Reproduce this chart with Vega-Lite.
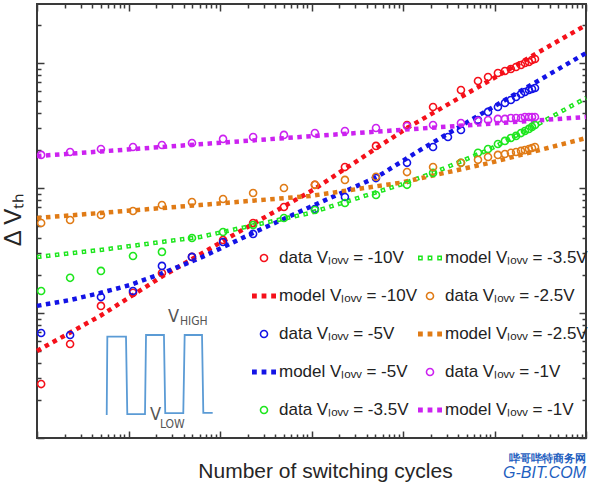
{
  "$schema": "https://vega.github.io/schema/vega-lite/v6.json",
  "width": 549,
  "height": 434,
  "autosize": {"type": "none"},
  "padding": {"left": 37, "top": 4, "right": 14, "bottom": 55},
  "background": "white",
  "config": {
    "view": {"stroke": "#3a3a3a", "strokeWidth": 2},
    "font": "Liberation Sans",
    "axis": {"domain": false, "grid": false, "labels": false, "tickColor": "#3a3a3a", "tickWidth": 1.5, "title": null}
  },
  "title": {
    "text": "哔哥哔特商务网",
    "subtitle": "G-BIT.COM",
    "orient": "bottom",
    "anchor": "end",
    "frame": "group",
    "dy": -32,
    "color": "#1f5fbf",
    "fontSize": 11,
    "fontWeight": "bold",
    "subtitleColor": "#1f5fbf",
    "subtitleFontSize": 16,
    "subtitleFontStyle": "italic",
    "subtitlePadding": 1
  },
  "datasets": {
    "points": [
      {"series": "data Vₗₒᵥᵥ = -10V", "x": 1.11, "y": 2.70},
      {"series": "data Vₗₒᵥᵥ = -10V", "x": 2.3, "y": 5.65},
      {"series": "data Vₗₒᵥᵥ = -10V", "x": 5.0, "y": 11.4},
      {"series": "data Vₗₒᵥᵥ = -10V", "x": 11.2, "y": 14.5},
      {"series": "data Vₗₒᵥᵥ = -10V", "x": 23.2, "y": 20.9},
      {"series": "data Vₗₒᵥᵥ = -10V", "x": 49.4, "y": 28.1},
      {"series": "data Vₗₒᵥᵥ = -10V", "x": 108, "y": 38.4},
      {"series": "data Vₗₒᵥᵥ = -10V", "x": 230, "y": 52.5},
      {"series": "data Vₗₒᵥᵥ = -10V", "x": 500, "y": 70.5},
      {"series": "data Vₗₒᵥᵥ = -10V", "x": 1090, "y": 106},
      {"series": "data Vₗₒᵥᵥ = -10V", "x": 2320, "y": 147},
      {"series": "data Vₗₒᵥᵥ = -10V", "x": 5070, "y": 217},
      {"series": "data Vₗₒᵥᵥ = -10V", "x": 11060, "y": 319},
      {"series": "data Vₗₒᵥᵥ = -10V", "x": 21300, "y": 445},
      {"series": "data Vₗₒᵥᵥ = -10V", "x": 43000, "y": 608},
      {"series": "data Vₗₒᵥᵥ = -10V", "x": 66000, "y": 718},
      {"series": "data Vₗₒᵥᵥ = -10V", "x": 85000, "y": 773},
      {"series": "data Vₗₒᵥᵥ = -10V", "x": 109000, "y": 832},
      {"series": "data Vₗₒᵥᵥ = -10V", "x": 130000, "y": 863},
      {"series": "data Vₗₒᵥᵥ = -10V", "x": 151000, "y": 895},
      {"series": "data Vₗₒᵥᵥ = -10V", "x": 172000, "y": 929},
      {"series": "data Vₗₒᵥᵥ = -10V", "x": 195000, "y": 964},
      {"series": "data Vₗₒᵥᵥ = -10V", "x": 215000, "y": 1000},
      {"series": "data Vₗₒᵥᵥ = -10V", "x": 238000, "y": 1019},
      {"series": "data Vₗₒᵥᵥ = -10V", "x": 257000, "y": 1057},
      {"series": "data Vₗₒᵥᵥ = -10V", "x": 277000, "y": 1076},
      {"series": "data Vₗₒᵥᵥ = -5V", "x": 1.11, "y": 6.92},
      {"series": "data Vₗₒᵥᵥ = -5V", "x": 2.3, "y": 6.67},
      {"series": "data Vₗₒᵥᵥ = -5V", "x": 5.0, "y": 13.4},
      {"series": "data Vₗₒᵥᵥ = -5V", "x": 11.2, "y": 15.0},
      {"series": "data Vₗₒᵥᵥ = -5V", "x": 23.2, "y": 23.8},
      {"series": "data Vₗₒᵥᵥ = -5V", "x": 49.4, "y": 28.1},
      {"series": "data Vₗₒᵥᵥ = -5V", "x": 108, "y": 37.0},
      {"series": "data Vₗₒᵥᵥ = -5V", "x": 230, "y": 42.9},
      {"series": "data Vₗₒᵥᵥ = -5V", "x": 1090, "y": 67.9},
      {"series": "data Vₗₒᵥᵥ = -5V", "x": 2320, "y": 84.7},
      {"series": "data Vₗₒᵥᵥ = -5V", "x": 5070, "y": 120},
      {"series": "data Vₗₒᵥᵥ = -5V", "x": 11060, "y": 159},
      {"series": "data Vₗₒᵥᵥ = -5V", "x": 21300, "y": 213},
      {"series": "data Vₗₒᵥᵥ = -5V", "x": 31000, "y": 256},
      {"series": "data Vₗₒᵥᵥ = -5V", "x": 43000, "y": 291},
      {"series": "data Vₗₒᵥᵥ = -5V", "x": 66000, "y": 350},
      {"series": "data Vₗₒᵥᵥ = -5V", "x": 85000, "y": 406},
      {"series": "data Vₗₒᵥᵥ = -5V", "x": 109000, "y": 445},
      {"series": "data Vₗₒᵥᵥ = -5V", "x": 130000, "y": 479},
      {"series": "data Vₗₒᵥᵥ = -5V", "x": 151000, "y": 506},
      {"series": "data Vₗₒᵥᵥ = -5V", "x": 172000, "y": 535},
      {"series": "data Vₗₒᵥᵥ = -5V", "x": 195000, "y": 565},
      {"series": "data Vₗₒᵥᵥ = -5V", "x": 215000, "y": 586},
      {"series": "data Vₗₒᵥᵥ = -5V", "x": 238000, "y": 608},
      {"series": "data Vₗₒᵥᵥ = -5V", "x": 257000, "y": 619},
      {"series": "data Vₗₒᵥᵥ = -5V", "x": 277000, "y": 631},
      {"series": "data Vₗₒᵥᵥ = -3.5V", "x": 1.11, "y": 15.0},
      {"series": "data Vₗₒᵥᵥ = -3.5V", "x": 2.3, "y": 19.1},
      {"series": "data Vₗₒᵥᵥ = -3.5V", "x": 5.0, "y": 21.7},
      {"series": "data Vₗₒᵥᵥ = -3.5V", "x": 11.2, "y": 28.6},
      {"series": "data Vₗₒᵥᵥ = -3.5V", "x": 23.2, "y": 30.8},
      {"series": "data Vₗₒᵥᵥ = -3.5V", "x": 49.4, "y": 39.8},
      {"series": "data Vₗₒᵥᵥ = -3.5V", "x": 108, "y": 44.5},
      {"series": "data Vₗₒᵥᵥ = -3.5V", "x": 230, "y": 50.6},
      {"series": "data Vₗₒᵥᵥ = -3.5V", "x": 500, "y": 57.5},
      {"series": "data Vₗₒᵥᵥ = -3.5V", "x": 1090, "y": 66.7},
      {"series": "data Vₗₒᵥᵥ = -3.5V", "x": 2320, "y": 75.9},
      {"series": "data Vₗₒᵥᵥ = -3.5V", "x": 5070, "y": 87.9},
      {"series": "data Vₗₒᵥᵥ = -3.5V", "x": 11060, "y": 106},
      {"series": "data Vₗₒᵥᵥ = -3.5V", "x": 21300, "y": 132},
      {"series": "data Vₗₒᵥᵥ = -3.5V", "x": 43000, "y": 159},
      {"series": "data Vₗₒᵥᵥ = -3.5V", "x": 66000, "y": 191},
      {"series": "data Vₗₒᵥᵥ = -3.5V", "x": 85000, "y": 205},
      {"series": "data Vₗₒᵥᵥ = -3.5V", "x": 109000, "y": 225},
      {"series": "data Vₗₒᵥᵥ = -3.5V", "x": 130000, "y": 238},
      {"series": "data Vₗₒᵥᵥ = -3.5V", "x": 151000, "y": 251},
      {"series": "data Vₗₒᵥᵥ = -3.5V", "x": 172000, "y": 261},
      {"series": "data Vₗₒᵥᵥ = -3.5V", "x": 195000, "y": 275},
      {"series": "data Vₗₒᵥᵥ = -3.5V", "x": 215000, "y": 286},
      {"series": "data Vₗₒᵥᵥ = -3.5V", "x": 238000, "y": 297},
      {"series": "data Vₗₒᵥᵥ = -3.5V", "x": 257000, "y": 308},
      {"series": "data Vₗₒᵥᵥ = -3.5V", "x": 277000, "y": 319},
      {"series": "data Vₗₒᵥᵥ = -2.5V", "x": 1.11, "y": 52.5},
      {"series": "data Vₗₒᵥᵥ = -2.5V", "x": 2.3, "y": 55.5},
      {"series": "data Vₗₒᵥᵥ = -2.5V", "x": 5.0, "y": 60.8},
      {"series": "data Vₗₒᵥᵥ = -2.5V", "x": 11.2, "y": 65.5},
      {"series": "data Vₗₒᵥᵥ = -2.5V", "x": 23.2, "y": 73.1},
      {"series": "data Vₗₒᵥᵥ = -2.5V", "x": 49.4, "y": 77.3},
      {"series": "data Vₗₒᵥᵥ = -2.5V", "x": 108, "y": 81.7},
      {"series": "data Vₗₒᵥᵥ = -2.5V", "x": 230, "y": 91.2},
      {"series": "data Vₗₒᵥᵥ = -2.5V", "x": 500, "y": 100},
      {"series": "data Vₗₒᵥᵥ = -2.5V", "x": 1090, "y": 106},
      {"series": "data Vₗₒᵥᵥ = -2.5V", "x": 2320, "y": 116},
      {"series": "data Vₗₒᵥᵥ = -2.5V", "x": 5070, "y": 123},
      {"series": "data Vₗₒᵥᵥ = -2.5V", "x": 11060, "y": 134},
      {"series": "data Vₗₒᵥᵥ = -2.5V", "x": 21300, "y": 147},
      {"series": "data Vₗₒᵥᵥ = -2.5V", "x": 43000, "y": 159},
      {"series": "data Vₗₒᵥᵥ = -2.5V", "x": 66000, "y": 168},
      {"series": "data Vₗₒᵥᵥ = -2.5V", "x": 85000, "y": 177},
      {"series": "data Vₗₒᵥᵥ = -2.5V", "x": 109000, "y": 184},
      {"series": "data Vₗₒᵥᵥ = -2.5V", "x": 130000, "y": 187},
      {"series": "data Vₗₒᵥᵥ = -2.5V", "x": 151000, "y": 191},
      {"series": "data Vₗₒᵥᵥ = -2.5V", "x": 172000, "y": 194},
      {"series": "data Vₗₒᵥᵥ = -2.5V", "x": 195000, "y": 198},
      {"series": "data Vₗₒᵥᵥ = -2.5V", "x": 215000, "y": 201},
      {"series": "data Vₗₒᵥᵥ = -2.5V", "x": 238000, "y": 205},
      {"series": "data Vₗₒᵥᵥ = -2.5V", "x": 257000, "y": 209},
      {"series": "data Vₗₒᵥᵥ = -2.5V", "x": 277000, "y": 213},
      {"series": "data Vₗₒᵥᵥ = -1V", "x": 1.11, "y": 184},
      {"series": "data Vₗₒᵥᵥ = -1V", "x": 2.3, "y": 194},
      {"series": "data Vₗₒᵥᵥ = -1V", "x": 5.0, "y": 205},
      {"series": "data Vₗₒᵥᵥ = -1V", "x": 11.2, "y": 213},
      {"series": "data Vₗₒᵥᵥ = -1V", "x": 23.2, "y": 221},
      {"series": "data Vₗₒᵥᵥ = -1V", "x": 49.4, "y": 229},
      {"series": "data Vₗₒᵥᵥ = -1V", "x": 108, "y": 247},
      {"series": "data Vₗₒᵥᵥ = -1V", "x": 230, "y": 256},
      {"series": "data Vₗₒᵥᵥ = -1V", "x": 500, "y": 266},
      {"series": "data Vₗₒᵥᵥ = -1V", "x": 1090, "y": 275},
      {"series": "data Vₗₒᵥᵥ = -1V", "x": 2320, "y": 286},
      {"series": "data Vₗₒᵥᵥ = -1V", "x": 5070, "y": 302},
      {"series": "data Vₗₒᵥᵥ = -1V", "x": 11060, "y": 313},
      {"series": "data Vₗₒᵥᵥ = -1V", "x": 21300, "y": 319},
      {"series": "data Vₗₒᵥᵥ = -1V", "x": 43000, "y": 331},
      {"series": "data Vₗₒᵥᵥ = -1V", "x": 66000, "y": 344},
      {"series": "data Vₗₒᵥᵥ = -1V", "x": 85000, "y": 350},
      {"series": "data Vₗₒᵥᵥ = -1V", "x": 109000, "y": 357},
      {"series": "data Vₗₒᵥᵥ = -1V", "x": 130000, "y": 357},
      {"series": "data Vₗₒᵥᵥ = -1V", "x": 151000, "y": 363},
      {"series": "data Vₗₒᵥᵥ = -1V", "x": 172000, "y": 363},
      {"series": "data Vₗₒᵥᵥ = -1V", "x": 195000, "y": 363},
      {"series": "data Vₗₒᵥᵥ = -1V", "x": 215000, "y": 370},
      {"series": "data Vₗₒᵥᵥ = -1V", "x": 238000, "y": 370},
      {"series": "data Vₗₒᵥᵥ = -1V", "x": 257000, "y": 370},
      {"series": "data Vₗₒᵥᵥ = -1V", "x": 277000, "y": 370}
    ],
    "models": [
      {"series": "model Vₗₒᵥᵥ = -10V", "x": 1, "y": 4.97},
      {"series": "model Vₗₒᵥᵥ = -10V", "x": 4.88, "y": 9.46},
      {"series": "model Vₗₒᵥᵥ = -10V", "x": 23.8, "y": 19.8},
      {"series": "model Vₗₒᵥᵥ = -10V", "x": 128.6, "y": 40.6},
      {"series": "model Vₗₒᵥᵥ = -10V", "x": 1038, "y": 96.4},
      {"series": "model Vₗₒᵥᵥ = -10V", "x": 11060, "y": 302},
      {"series": "model Vₗₒᵥᵥ = -10V", "x": 1000000, "y": 2014},
      {"series": "model Vₗₒᵥᵥ = -5V", "x": 1, "y": 11.4},
      {"series": "model Vₗₒᵥᵥ = -5V", "x": 2.3, "y": 12.7},
      {"series": "model Vₗₒᵥᵥ = -5V", "x": 4.88, "y": 14.45},
      {"series": "model Vₗₒᵥᵥ = -5V", "x": 10.4, "y": 16.75},
      {"series": "model Vₗₒᵥᵥ = -5V", "x": 23.8, "y": 20.9},
      {"series": "model Vₗₒᵥᵥ = -5V", "x": 60.4, "y": 27.5},
      {"series": "model Vₗₒᵥᵥ = -5V", "x": 229.5, "y": 43.7},
      {"series": "model Vₗₒᵥᵥ = -5V", "x": 963, "y": 70.5},
      {"series": "model Vₗₒᵥᵥ = -5V", "x": 5200, "y": 122.5},
      {"series": "model Vₗₒᵥᵥ = -5V", "x": 15350, "y": 201},
      {"series": "model Vₗₒᵥᵥ = -5V", "x": 84920, "y": 421},
      {"series": "model Vₗₒᵥᵥ = -5V", "x": 1000000, "y": 1202},
      {"series": "model Vₗₒᵥᵥ = -3.5V", "x": 1, "y": 28.1},
      {"series": "model Vₗₒᵥᵥ = -3.5V", "x": 4.88, "y": 31.9},
      {"series": "model Vₗₒᵥᵥ = -3.5V", "x": 60.4, "y": 40.6},
      {"series": "model Vₗₒᵥᵥ = -3.5V", "x": 963, "y": 63.1},
      {"series": "model Vₗₒᵥᵥ = -3.5V", "x": 9270, "y": 106},
      {"series": "model Vₗₒᵥᵥ = -3.5V", "x": 21280, "y": 132},
      {"series": "model Vₗₒᵥᵥ = -3.5V", "x": 84920, "y": 201},
      {"series": "model Vₗₒᵥᵥ = -3.5V", "x": 263600, "y": 308},
      {"series": "model Vₗₒᵥᵥ = -3.5V", "x": 1000000, "y": 525},
      {"series": "model Vₗₒᵥᵥ = -2.5V", "x": 1, "y": 57.5},
      {"series": "model Vₗₒᵥᵥ = -2.5V", "x": 4.88, "y": 63.1},
      {"series": "model Vₗₒᵥᵥ = -2.5V", "x": 60.4, "y": 73.1},
      {"series": "model Vₗₒᵥᵥ = -2.5V", "x": 963, "y": 86.3},
      {"series": "model Vₗₒᵥᵥ = -2.5V", "x": 9270, "y": 110},
      {"series": "model Vₗₒᵥᵥ = -2.5V", "x": 89300, "y": 159},
      {"series": "model Vₗₒᵥᵥ = -2.5V", "x": 1000000, "y": 251},
      {"series": "model Vₗₒᵥᵥ = -1V", "x": 1, "y": 180},
      {"series": "model Vₗₒᵥᵥ = -1V", "x": 748.6, "y": 256},
      {"series": "model Vₗₒᵥᵥ = -1V", "x": 1000000, "y": 370}
    ],
    "wave": [
      {"i": 1, "x": 5.78, "y": 1.53},
      {"i": 2, "x": 5.87, "y": 6.46},
      {"i": 3, "x": 9.39, "y": 6.46},
      {"i": 4, "x": 9.70, "y": 1.55},
      {"i": 5, "x": 15.15, "y": 1.55},
      {"i": 6, "x": 15.54, "y": 6.67},
      {"i": 7, "x": 24.4, "y": 6.67},
      {"i": 8, "x": 25.2, "y": 1.58},
      {"i": 9, "x": 39.7, "y": 1.58},
      {"i": 10, "x": 41.1, "y": 6.67},
      {"i": 11, "x": 63.6, "y": 6.67},
      {"i": 12, "x": 65.7, "y": 1.59},
      {"i": 13, "x": 83.2, "y": 1.59}
    ],
    "notes": [
      {"t": "V", "part": "main", "x": 27.0, "y": 8.47},
      {"t": "HIGH", "part": "sub", "x": 36.5, "y": 8.02},
      {"t": "V", "part": "main", "x": 17.2, "y": 1.39},
      {"t": "LOW", "part": "sub", "x": 22.1, "y": 1.20}
    ]
  },
  "layer": [
    {
      "data": {"name": "models"},
      "mark": {"type": "line", "strokeWidth": 4.5, "strokeDash": [4.5, 4.5]},
      "encoding": {
        "x": {
          "field": "x", "type": "quantitative",
          "scale": {"type": "log", "domain": [1, 1000000], "nice": false},
          "axis": {
            "orient": "bottom",
            "values": [1, 10, 100, 1000, 10000, 100000, 1000000],
            "offset": -7,
            "tickSize": 7,
            "title": "Number of switching cycles",
            "titleFont": "Liberation Sans",
            "titleFontSize": 21,
            "titleFontWeight": "normal",
            "titleColor": "#262626",
            "titleX": 288,
            "titleY": 46,
            "titleAlign": "center",
            "titleBaseline": "alphabetic"
          }
        },
        "y": {
          "field": "y", "type": "quantitative",
          "scale": {"type": "log", "domain": [1, 2965], "nice": false},
          "axis": {
            "orient": "left",
            "values": [1, 10, 100, 1000],
            "offset": -7,
            "tickSize": 7,
            "title": "Δ Vₜₕ",
            "titleFont": "Liberation Sans",
            "titleFontSize": 24,
            "titleFontWeight": "normal",
            "titleColor": "#262626",
            "titleAngle": -90,
            "titleX": -24,
            "titleY": 215,
            "titleAlign": "center",
            "titleBaseline": "alphabetic"
          }
        },
        "stroke": {
          "field": "series", "type": "nominal",
          "scale": {
            "domain": ["model Vₗₒᵥᵥ = -10V", "model Vₗₒᵥᵥ = -5V", "model Vₗₒᵥᵥ = -3.5V", "model Vₗₒᵥᵥ = -2.5V", "model Vₗₒᵥᵥ = -1V"],
            "range": ["#f5101a", "#1313e6", "#1ee61e", "#e07b16", "#cc22f0"]
          },
          "legend": null
        }
      }
    },
    {
      "data": {"name": "models"},
      "transform": [{"filter": "datum.series == 'model Vₗₒᵥᵥ = -3.5V'"}],
      "mark": {"type": "line", "strokeWidth": 1.6, "strokeDash": [1.6, 7.4], "strokeDashOffset": -1.45, "color": "white"},
      "encoding": {
        "x": {
          "field": "x", "type": "quantitative",
          "axis": {
            "orient": "bottom",
            "values": [2,3,4,5,6,7,8,9,20,30,40,50,60,70,80,90,200,300,400,500,600,700,800,900,2000,3000,4000,5000,6000,7000,8000,9000,20000,30000,40000,50000,60000,70000,80000,90000,200000,300000,400000,500000,600000,700000,800000,900000],
            "offset": -4,
            "tickSize": 4
          }
        },
        "y": {
          "field": "y", "type": "quantitative",
          "axis": {
            "orient": "left",
            "values": [2,3,4,5,6,7,8,9,20,30,40,50,60,70,80,90,200,300,400,500,600,700,800,900,2000],
            "offset": -4,
            "tickSize": 4
          }
        }
      }
    },
    {
      "data": {"name": "points"},
      "mark": {"type": "point", "filled": true, "size": 576, "strokeWidth": 0, "opacity": 1},
      "encoding": {
        "x": {
          "field": "x", "type": "quantitative",
          "axis": {
            "orient": "top",
            "values": [1, 10, 100, 1000, 10000, 100000, 1000000],
            "offset": -7,
            "tickSize": 7
          }
        },
        "y": {
          "field": "y", "type": "quantitative",
          "axis": {
            "orient": "right",
            "values": [1, 10, 100, 1000],
            "offset": -7,
            "tickSize": 7
          }
        },
        "shape": {
          "field": "series", "type": "nominal",
          "scale": {
            "domain": ["data Vₗₒᵥᵥ = -10V", "model Vₗₒᵥᵥ = -10V", "data Vₗₒᵥᵥ = -5V", "model Vₗₒᵥᵥ = -5V", "data Vₗₒᵥᵥ = -3.5V", "model Vₗₒᵥᵥ = -3.5V", "data Vₗₒᵥᵥ = -2.5V", "model Vₗₒᵥᵥ = -2.5V", "data Vₗₒᵥᵥ = -1V", "model Vₗₒᵥᵥ = -1V"],
            "range": [
              "M0,-0.36A0.36,0.36,0,1,1,0,0.36A0.36,0.36,0,1,1,0,-0.36Z M0,-0.23A0.23,0.23,0,1,0,0,0.23A0.23,0.23,0,1,0,0,-0.23Z",
              "M-1,-0.2H-0.6V0.2H-1Z M-0.2,-0.2H0.2V0.2H-0.2Z M0.6,-0.2H1V0.2H0.6Z",
              "M0,-0.36A0.36,0.36,0,1,1,0,0.36A0.36,0.36,0,1,1,0,-0.36Z M0,-0.23A0.23,0.23,0,1,0,0,0.23A0.23,0.23,0,1,0,0,-0.23Z",
              "M-1,-0.2H-0.6V0.2H-1Z M-0.2,-0.2H0.2V0.2H-0.2Z M0.6,-0.2H1V0.2H0.6Z",
              "M0,-0.36A0.36,0.36,0,1,1,0,0.36A0.36,0.36,0,1,1,0,-0.36Z M0,-0.23A0.23,0.23,0,1,0,0,0.23A0.23,0.23,0,1,0,0,-0.23Z",
              "M-1,-0.2H-0.6V0.2H-1Z M-0.88,-0.08V0.08H-0.72V-0.08Z M-0.2,-0.2H0.2V0.2H-0.2Z M-0.08,-0.08V0.08H0.08V-0.08Z M0.6,-0.2H1V0.2H0.6Z M0.72,-0.08V0.08H0.88V-0.08Z",
              "M0,-0.36A0.36,0.36,0,1,1,0,0.36A0.36,0.36,0,1,1,0,-0.36Z M0,-0.23A0.23,0.23,0,1,0,0,0.23A0.23,0.23,0,1,0,0,-0.23Z",
              "M-1,-0.2H-0.6V0.2H-1Z M-0.2,-0.2H0.2V0.2H-0.2Z M0.6,-0.2H1V0.2H0.6Z",
              "M0,-0.36A0.36,0.36,0,1,1,0,0.36A0.36,0.36,0,1,1,0,-0.36Z M0,-0.23A0.23,0.23,0,1,0,0,0.23A0.23,0.23,0,1,0,0,-0.23Z",
              "M-1,-0.2H-0.6V0.2H-1Z M-0.2,-0.2H0.2V0.2H-0.2Z M0.6,-0.2H1V0.2H0.6Z"
            ]
          },
          "legend": {
            "orient": "none",
            "legendX": 214,
            "legendY": 241,
            "columns": 2,
            "title": null,
            "symbolSize": 576,
            "labelFontSize": 17,
            "labelColor": "#222222",
            "labelOffset": 2,
            "rowPadding": 17,
            "columnPadding": -16
          }
        },
        "color": {
          "field": "series", "type": "nominal",
          "scale": {
            "domain": ["data Vₗₒᵥᵥ = -10V", "model Vₗₒᵥᵥ = -10V", "data Vₗₒᵥᵥ = -5V", "model Vₗₒᵥᵥ = -5V", "data Vₗₒᵥᵥ = -3.5V", "model Vₗₒᵥᵥ = -3.5V", "data Vₗₒᵥᵥ = -2.5V", "model Vₗₒᵥᵥ = -2.5V", "data Vₗₒᵥᵥ = -1V", "model Vₗₒᵥᵥ = -1V"],
            "range": ["#f5101a", "#f5101a", "#1313e6", "#1313e6", "#1ee61e", "#1ee61e", "#e07b16", "#e07b16", "#cc22f0", "#cc22f0"]
          },
          "legend": {
            "orient": "none",
            "legendX": 214,
            "legendY": 241,
            "columns": 2,
            "title": null,
            "symbolSize": 576,
            "labelFontSize": 17,
            "labelColor": "#222222",
            "labelOffset": 2,
            "rowPadding": 17,
            "columnPadding": -16
          }
        }
      }
    },
    {
      "data": {"name": "wave"},
      "mark": {"type": "line", "color": "#5b9bd5", "strokeWidth": 1.8},
      "encoding": {
        "x": {
          "field": "x", "type": "quantitative",
          "axis": {
            "orient": "top",
            "values": [2,3,4,5,6,7,8,9,20,30,40,50,60,70,80,90,200,300,400,500,600,700,800,900,2000,3000,4000,5000,6000,7000,8000,9000,20000,30000,40000,50000,60000,70000,80000,90000,200000,300000,400000,500000,600000,700000,800000,900000],
            "offset": -4,
            "tickSize": 4
          }
        },
        "y": {
          "field": "y", "type": "quantitative",
          "axis": {
            "orient": "right",
            "values": [2,3,4,5,6,7,8,9,20,30,40,50,60,70,80,90,200,300,400,500,600,700,800,900,2000],
            "offset": -4,
            "tickSize": 4
          }
        },
        "order": {"field": "i", "type": "quantitative"}
      }
    },
    {
      "data": {"name": "notes"},
      "transform": [{"filter": "datum.part == 'main'"}],
      "mark": {"type": "text", "align": "left", "baseline": "alphabetic", "fontSize": 18, "color": "#555555", "font": "'Liberation Sans Narrow', 'DejaVu Sans Condensed', 'Liberation Sans'"},
      "encoding": {
        "x": {"field": "x", "type": "quantitative", "axis": null},
        "y": {"field": "y", "type": "quantitative", "axis": null},
        "text": {"field": "t"}
      }
    },
    {
      "data": {"name": "notes"},
      "transform": [{"filter": "datum.part == 'sub'"}],
      "mark": {"type": "text", "align": "left", "baseline": "alphabetic", "fontSize": 12, "color": "#555555", "font": "'Liberation Sans Narrow', 'DejaVu Sans Condensed', 'Liberation Sans'"},
      "encoding": {
        "x": {"field": "x", "type": "quantitative", "axis": null},
        "y": {"field": "y", "type": "quantitative", "axis": null},
        "text": {"field": "t"}
      }
    }
  ],
  "resolve": {"axis": {"x": "independent", "y": "independent"}}
}
